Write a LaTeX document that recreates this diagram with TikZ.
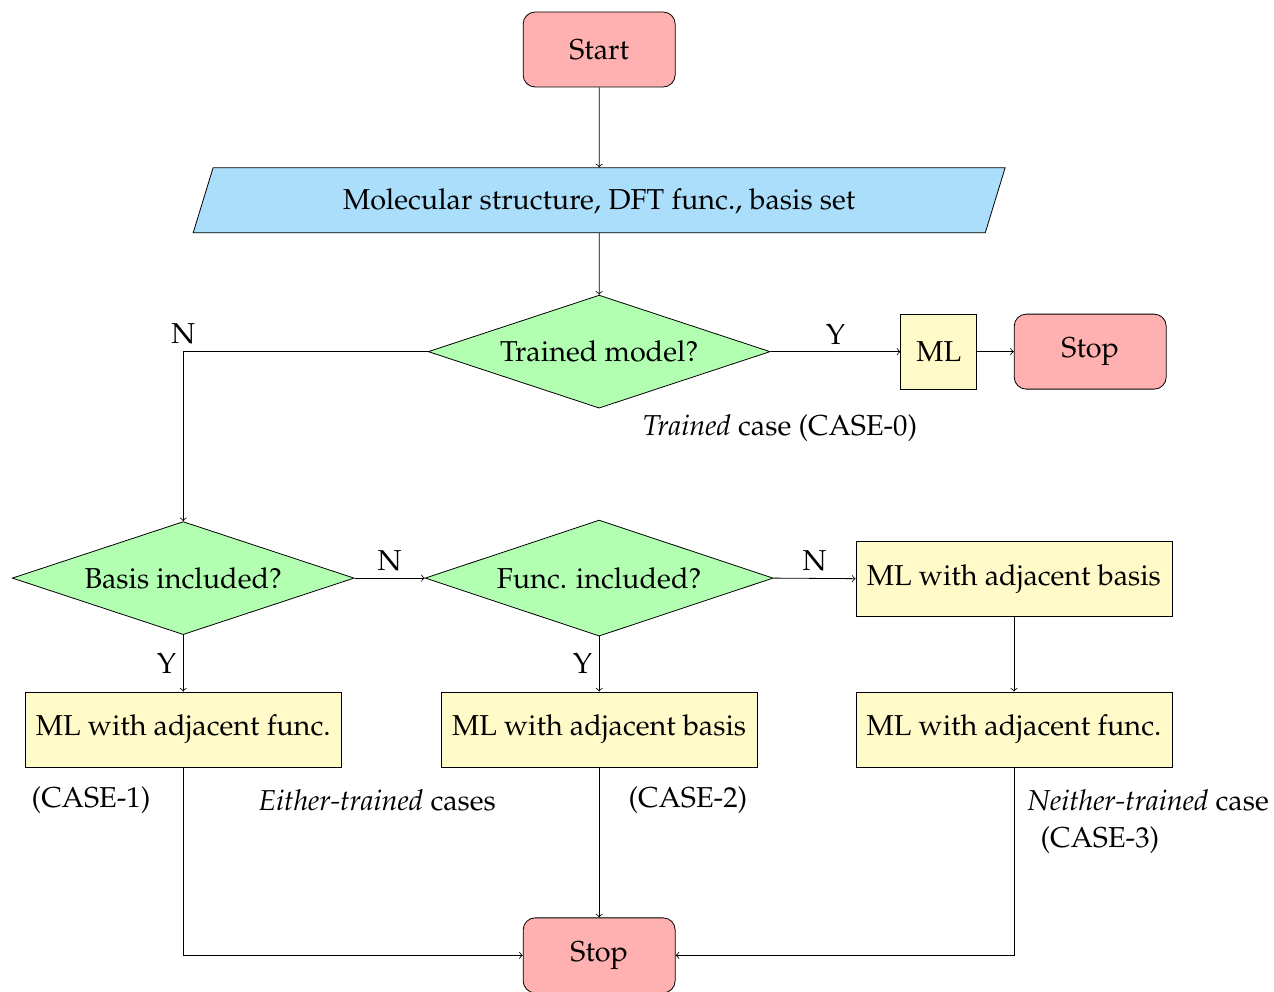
\documentclass[tikz,border=0pt]{standalone}
\usepackage[T1]{fontenc}
\usepackage{mathpazo}
\usepackage{tikz}
\usetikzlibrary{calc,shapes.geometric}
\definecolor{startred}{RGB}{255,176,176}
\definecolor{inblue}{RGB}{170,222,250}
\definecolor{askgreen}{RGB}{178,255,178}
\definecolor{mlyellow}{RGB}{255,250,200}

\begin{document}
\begin{tikzpicture}[font=\Large,
	termbox/.style={draw, rounded corners=6pt, fill=startred, minimum width=76pt, minimum height=37.5pt},
	iobox/.style={draw, trapezium, trapezium left angle=73, trapezium right angle=107, trapezium stretches body, fill=inblue, text height=11pt, text depth=2pt, inner ysep=9.75pt, minimum width=406pt},
	askbox/.style={draw, diamond, aspect=3, fill=askgreen, minimum width=171pt, minimum height=56.5pt, inner sep=0pt},
	mlbox/.style={draw, fill=mlyellow, minimum width=158pt, minimum height=37.5pt},
	arr/.style={->}]
		%%%%% START %%%%%
		\useasboundingbox (0, 0) rectangle (22.39, -17.42);
		
		\node[termbox] (start) at (10.53, -0.87) {Start};
		\node[iobox] (input) at (10.53, -3.52) {Molecular structure, DFT func., basis set};
		\node[askbox] (trained) at (10.53, -6.18) {Trained model?};
		\node[mlbox, minimum width=38pt] (ml) at (16.50, -6.18) {ML};
		\node[termbox] (stopml) at (19.16, -6.18) {Stop};
		
		\node[askbox] (basis) at (3.22, -10.16) {Basis included?};
		\node[askbox, minimum width=174pt, minimum height=58pt] (func) at (10.53, -10.16) {Func. included?};
		\node[mlbox] (adjbasisR) at (17.82, -10.17) {ML with adjacent basis};
		
		\node[mlbox] (adjfuncL) at (3.22, -12.82) {ML with adjacent func.};
		\node[mlbox] (adjbasisM) at (10.53, -12.82) {ML with adjacent basis};
		\node[mlbox] (adjfuncR) at (17.82, -12.82) {ML with adjacent func.};
		
		\node[termbox] (stop) at (10.53, -16.79) {Stop};
		
		\draw[arr] (start) -- (input);
		\draw[arr] (input) -- (trained);
		\draw[arr] (trained) -- node[above] {Y} (ml);
		\draw[arr] (ml) -- (stopml);
		\draw[arr] (trained.west) -| node[pos=0.5, above] {N} (basis.north);
		\draw[arr] (basis.east) -- node[above] {N} (func.west);
		\draw[arr] (func.east) -- node[above] {N} (adjbasisR.west);
		\draw[arr] (basis.south) -- node[left] {Y} (adjfuncL.north);
		\draw[arr] (func.south) -- node[left] {Y} (adjbasisM.north);
		\draw[arr] (adjbasisR) -- (adjfuncR);
		\draw[arr] (adjfuncL.south) |- (stop.west);
		\draw[arr] (adjbasisM) -- (stop);
		\draw[arr] (adjfuncR.south) |- (stop.east);
		
		\node (case0) at (13.71, -7.52) {\textit{Trained} case (CASE-0)};
		\node (case1) at (1.60, -14.06) {(CASE-1)};
		\node (either) at (6.63, -14.06) {\textit{Either-trained} cases};
		\node (case2) at (12.09, -14.06) {(CASE-2)};
		\node (neither) at (20.18, -14.06) {\textit{Neither-trained} case};
		\node (case3) at (19.33, -14.76) {(CASE-3)};
		
		%%%%% END %%%%%
\end{tikzpicture}
\end{document}
